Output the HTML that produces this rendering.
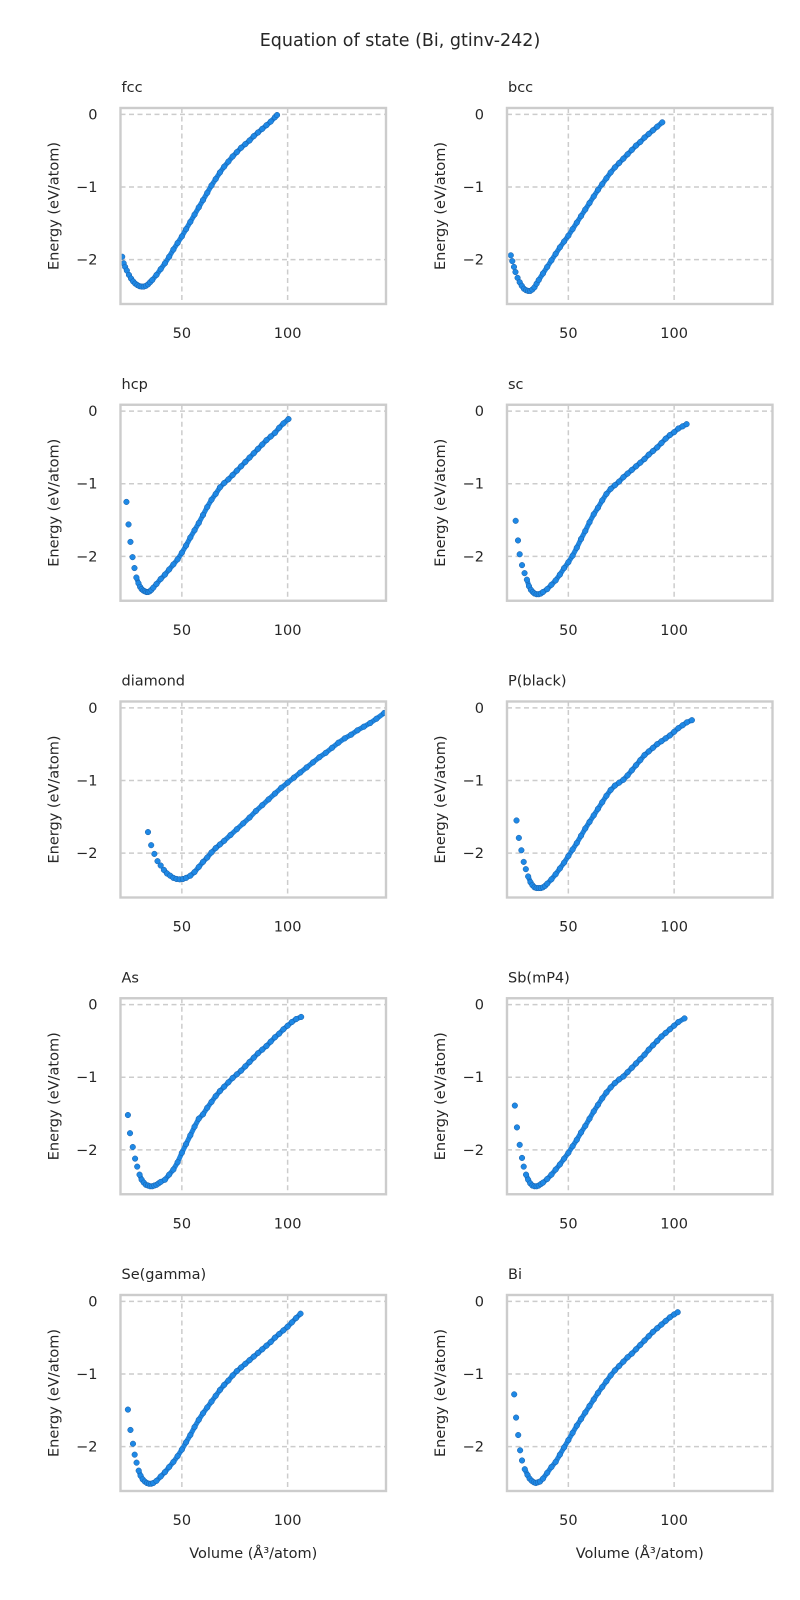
<!DOCTYPE html>
<html><head><meta charset="utf-8"><style>
html,body{margin:0;padding:0;background:#fff;}
svg{display:block;font-family:"DejaVu Sans","Liberation Sans",sans-serif;}
</style></head><body>
<svg id="fig" width="800" height="1600" viewBox="0 0 800 1600" xmlns="http://www.w3.org/2000/svg">
<text x="400" y="46" text-anchor="middle" font-size="17.5" fill="#262626">Equation of state (Bi, gtinv-242)</text>
</svg>
<script>
const panelNames = ["fcc","bcc","hcp","sc","diamond","P(black)","As","Sb(mP4)","Se(gamma)","Bi"];
const xTicks = [50, 100];
const xTickLabels = ["50", "100"];
const yTicks = [0, -1, -2];
const yTickLabels = ["0", "\u22121", "\u22122"];
const xDomain = [21, 146.5];
const yDomain = [-2.61, 0.087];

const volFcc = [21.8,22.5,23.2,24,25,26,27,28,29,30,31,32,33,34,35,36,38,40,42,44,46,48,50,52,54,56,58,60,62,64,66,68,70,72,74,76,78,80,82,84,86,88,90,92,94,95];
const engFcc = [-1.96,-2.05,-2.10,-2.15,-2.21,-2.26,-2.30,-2.33,-2.35,-2.365,-2.37,-2.37,-2.36,-2.34,-2.31,-2.28,-2.21,-2.13,-2.05,-1.96,-1.86,-1.77,-1.68,-1.58,-1.48,-1.38,-1.28,-1.18,-1.08,-0.98,-0.89,-0.80,-0.72,-0.65,-0.58,-0.52,-0.46,-0.41,-0.36,-0.30,-0.25,-0.20,-0.15,-0.10,-0.04,-0.01];
const volBcc = [22.8,23.5,24.3,25,26,27,28,29,30,31,32,33,34,35,36,38,40,42,44,46,48,50,52,54,56,58,60,62,64,66,68,70,72,74,76,78,80,82,84,86,88,90,92,94.4];
const engBcc = [-1.94,-2.02,-2.10,-2.17,-2.25,-2.31,-2.36,-2.40,-2.42,-2.43,-2.43,-2.41,-2.38,-2.33,-2.28,-2.19,-2.10,-2.01,-1.92,-1.83,-1.75,-1.67,-1.58,-1.49,-1.40,-1.31,-1.22,-1.13,-1.04,-0.96,-0.88,-0.80,-0.73,-0.67,-0.61,-0.55,-0.49,-0.43,-0.38,-0.32,-0.27,-0.22,-0.17,-0.11];
const volHcp = [23.8,24.8,25.7,26.7,27.6,28.5,29.5,30.3,31,31.8,32.5,33.3,34,34.8,35.6,36.5,38,40,42,44,46,48,50,52,54,56,58,60,62,64,66,68,70,72,74,76,78,80,82,84,86,88,90,92,94,96,98,100.4];
const engHcp = [-1.25,-1.56,-1.80,-2.01,-2.16,-2.29,-2.37,-2.42,-2.45,-2.47,-2.48,-2.49,-2.49,-2.48,-2.46,-2.43,-2.38,-2.31,-2.25,-2.18,-2.11,-2.04,-1.95,-1.85,-1.74,-1.64,-1.54,-1.43,-1.32,-1.22,-1.14,-1.05,-0.99,-0.94,-0.88,-0.82,-0.76,-0.70,-0.64,-0.58,-0.52,-0.46,-0.40,-0.35,-0.30,-0.23,-0.17,-0.11];
const volSc = [25.1,26.2,27,28.1,29.3,30.4,31.4,32.3,33.2,34,35,36,37,38,40,42,44,46,48,50,52,54,56,58,60,62,64,66,68,70,72,74,76,78,80,82,84,86,88,90,92,94,96,98,100,102,104,105.9];
const engSc = [-1.51,-1.78,-1.97,-2.12,-2.23,-2.32,-2.41,-2.46,-2.49,-2.51,-2.52,-2.52,-2.51,-2.49,-2.45,-2.39,-2.33,-2.25,-2.16,-2.08,-1.99,-1.88,-1.76,-1.65,-1.53,-1.42,-1.33,-1.23,-1.14,-1.07,-1.02,-0.97,-0.91,-0.86,-0.81,-0.76,-0.71,-0.66,-0.60,-0.55,-0.50,-0.44,-0.38,-0.33,-0.29,-0.24,-0.21,-0.18];
const volDia = [34,35.5,37,38.5,40,41.5,43,44.5,46,47.5,49,50.5,52,54,56,58,60,62,64,66,68,70,73,76,79,82,85,88,91,94,97,100,103,106,109,112,115,118,121,124,127,130,133,136,139,142,145.7];
const engDia = [-1.71,-1.89,-2.01,-2.11,-2.17,-2.23,-2.28,-2.31,-2.34,-2.355,-2.36,-2.355,-2.34,-2.31,-2.26,-2.19,-2.12,-2.06,-1.99,-1.93,-1.88,-1.83,-1.75,-1.67,-1.59,-1.51,-1.42,-1.34,-1.26,-1.18,-1.10,-1.03,-0.96,-0.89,-0.82,-0.75,-0.68,-0.62,-0.55,-0.48,-0.42,-0.37,-0.31,-0.26,-0.21,-0.15,-0.07];
const volP = [25.5,26.6,27.8,28.9,29.9,31,32.1,33,34,35,36,37,38,39,40,42,44,46,48,50,52,54,56,58,60,62,64,66,68,70,72,74,76,78,80,82,84,86,88,90,92,94,96,98,100,102,104,106,108.4];
const engP = [-1.55,-1.79,-1.96,-2.12,-2.22,-2.32,-2.40,-2.44,-2.47,-2.48,-2.48,-2.48,-2.47,-2.45,-2.42,-2.36,-2.29,-2.21,-2.13,-2.04,-1.95,-1.86,-1.76,-1.66,-1.57,-1.48,-1.39,-1.30,-1.21,-1.13,-1.07,-1.03,-0.99,-0.93,-0.86,-0.79,-0.72,-0.65,-0.60,-0.55,-0.50,-0.46,-0.42,-0.38,-0.33,-0.28,-0.24,-0.20,-0.17];
const volAs = [24.5,25.5,26.8,27.9,28.9,30,31,32,33,34,35,36,37,38,39,40,42,44,46,48,50,52,54,56,58,60,62,64,66,68,70,72,74,76,78,80,82,84,86,88,90,92,94,96,98,100,102,104,106.4];
const engAs = [-1.52,-1.77,-1.96,-2.12,-2.23,-2.34,-2.41,-2.45,-2.48,-2.49,-2.50,-2.50,-2.49,-2.48,-2.46,-2.44,-2.41,-2.34,-2.27,-2.17,-2.04,-1.92,-1.80,-1.68,-1.57,-1.51,-1.42,-1.34,-1.26,-1.19,-1.13,-1.07,-1.01,-0.96,-0.91,-0.85,-0.79,-0.73,-0.67,-0.62,-0.57,-0.51,-0.45,-0.40,-0.34,-0.29,-0.24,-0.20,-0.17];
const volSb = [24.7,25.7,27,28.1,28.9,30,31,32,33,34,35,36,37,38,40,42,44,46,48,50,52,54,56,58,60,62,64,66,68,70,72,74,76,78,80,82,84,86,88,90,92,94,96,98,100,102,104.9];
const engSb = [-1.39,-1.69,-1.93,-2.11,-2.23,-2.34,-2.41,-2.46,-2.49,-2.50,-2.50,-2.49,-2.47,-2.45,-2.40,-2.34,-2.27,-2.20,-2.12,-2.04,-1.95,-1.86,-1.76,-1.67,-1.57,-1.47,-1.38,-1.29,-1.21,-1.14,-1.08,-1.03,-0.99,-0.93,-0.87,-0.81,-0.75,-0.69,-0.62,-0.56,-0.50,-0.44,-0.39,-0.34,-0.29,-0.24,-0.19];
const volSe = [24.5,25.7,26.9,27.7,28.6,29.6,30.5,31.5,32.5,33.5,34.5,35.5,36.5,38,40,42,44,46,48,50,52,54,56,58,60,62,64,66,68,70,72,74,76,78,80,82,84,86,88,90,92,94,96,98,100,102,104,106.1];
const engSe = [-1.49,-1.77,-1.96,-2.11,-2.22,-2.33,-2.40,-2.45,-2.48,-2.50,-2.51,-2.51,-2.50,-2.47,-2.41,-2.35,-2.28,-2.21,-2.13,-2.04,-1.94,-1.84,-1.73,-1.63,-1.54,-1.46,-1.38,-1.30,-1.22,-1.15,-1.09,-1.02,-0.96,-0.91,-0.86,-0.81,-0.76,-0.71,-0.66,-0.61,-0.56,-0.50,-0.45,-0.40,-0.35,-0.29,-0.23,-0.17];
const volBi = [24.4,25.3,26.3,27.2,28.1,29.4,30.7,31.7,32.7,33.7,34.6,35.6,36.6,38,40,42,44,46,48,50,52,54,56,58,60,62,64,66,68,70,72,74,76,78,80,82,84,86,88,90,92,94,96,98,100,101.7];
const engBi = [-1.28,-1.60,-1.84,-2.05,-2.19,-2.31,-2.39,-2.44,-2.47,-2.49,-2.50,-2.49,-2.48,-2.44,-2.36,-2.28,-2.21,-2.11,-2.01,-1.91,-1.81,-1.71,-1.62,-1.53,-1.44,-1.35,-1.26,-1.18,-1.10,-1.02,-0.95,-0.89,-0.83,-0.77,-0.72,-0.66,-0.60,-0.54,-0.48,-0.42,-0.37,-0.32,-0.27,-0.22,-0.18,-0.15];

const seriesVol = [volFcc,volBcc,volHcp,volSc,volDia,volP,volAs,volSb,volSe,volBi];
const seriesEng = [engFcc,engBcc,engHcp,engSc,engDia,engP,engAs,engSb,engSe,engBi];

const NS = "http://www.w3.org/2000/svg";
const svg = document.getElementById("fig");
const colLeft = [120.5, 507];
const panelW = 265.5, panelH = 196;
const rowTop0 = 108, rowStep = 296.75;

function mk(tag, attrs, parent) {
  const e = document.createElementNS(NS, tag);
  for (const k in attrs) e.setAttribute(k, attrs[k]);
  parent.appendChild(e);
  return e;
}

for (let p = 0; p < panelNames.length; p++) {
  const col = p % 2, row = Math.floor(p / 2);
  const L = colLeft[col], T = rowTop0 + row * rowStep;
  const sx = v => L + (v - xDomain[0]) / (xDomain[1] - xDomain[0]) * panelW;
  const sy = e => T + (yDomain[1] - e) / (yDomain[1] - yDomain[0]) * panelH;
  const slug = panelNames[p].toLowerCase().replace(/[^a-z0-9]+/g, "-").replace(/-$/, "");

  const g = mk("g", {}, svg);
  
  

  const title = mk("text", {x: L + 1, y: T - 16, "font-size": 14.5, fill: "#262626"}, g);
  title.textContent = panelNames[p];
  
  

  const clipId = "clip" + p;
  const cp = mk("clipPath", {id: clipId}, g);
  mk("rect", {x: L, y: T, width: panelW, height: panelH}, cp);

  for (let i = 0; i < xTicks.length; i++) {
    const x = sx(xTicks[i]);
    const gl = mk("line", {x1: x, x2: x, y1: T, y2: T + panelH, stroke: "#cccccc", "stroke-width": 1.5, "stroke-dasharray": "5,3.5"}, g);
    
    
    const tl = mk("text", {x: x, y: T + panelH + 34, "text-anchor": "middle", "font-size": 14.5, fill: "#262626"}, g);
    tl.textContent = xTickLabels[i];
    
    
  }
  for (let i = 0; i < yTicks.length; i++) {
    const y = sy(yTicks[i]);
    const gl = mk("line", {x1: L, x2: L + panelW, y1: y, y2: y, stroke: "#cccccc", "stroke-width": 1.5, "stroke-dasharray": "5,3.5"}, g);
    
    
    const tl = mk("text", {x: L - 23, y: y + 5, "text-anchor": "end", "font-size": 14.5, fill: "#262626"}, g);
    tl.textContent = yTickLabels[i];
    
    
  }

  const yl = mk("text", {x: 0, y: 0, "text-anchor": "middle", "font-size": 14.5, fill: "#262626",
    transform: "translate(" + (L - 62) + "," + (T + panelH / 2) + ") rotate(-90)"}, g);
  yl.textContent = "Energy (eV/atom)";
  
  

  if (row === 4) {
    const xl = mk("text", {x: L + panelW / 2, y: T + panelH + 67, "text-anchor": "middle", "font-size": 14.5, fill: "#262626"}, g);
    xl.textContent = "Volume (\u00C5\u00B3/atom)";
    
    
  }

  const vols = seriesVol[p], engs = seriesEng[p];
  const mg = mk("g", {"clip-path": "url(#" + clipId + ")"}, g);
  
  
  for (let i = 1; i < vols.length; i++) {
    const x1 = sx(vols[i - 1]), y1 = sy(engs[i - 1]), x2 = sx(vols[i]), y2 = sy(engs[i]);
    if (Math.hypot(x2 - x1, y2 - y1) < 13 && i > 5) {
      const seg = mk("line", {x1: x1, y1: y1, x2: x2, y2: y2, stroke: "#1f86e0", "stroke-width": 5, "stroke-linecap": "round"}, mg);
      
      
    }
  }
  for (let i = 0; i < vols.length; i++) {
    const c = mk("circle", {cx: sx(vols[i]), cy: sy(engs[i]), r: 2.8, fill: "#1e88e5", stroke: "#1a5fa8", "stroke-width": 0.5}, mg);
    
    
  }

  const fr = mk("rect", {x: L, y: T, width: panelW, height: panelH, fill: "none", stroke: "#cccccc", "stroke-width": 2.4}, g);
  
  
}
</script>
</body></html>
